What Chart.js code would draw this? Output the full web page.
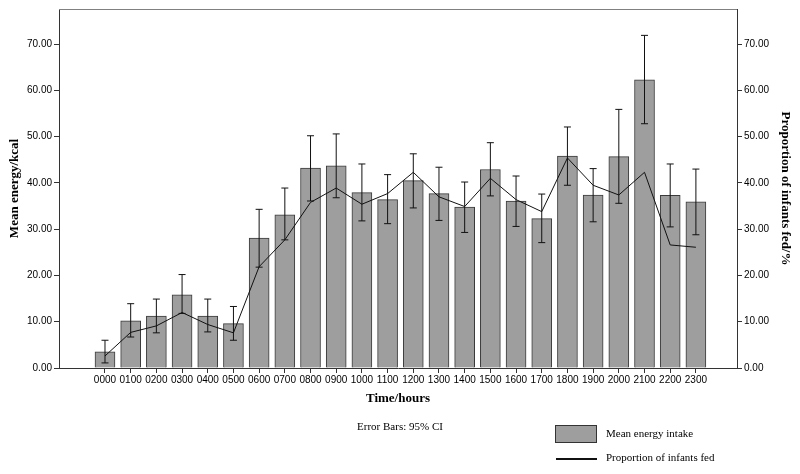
<!DOCTYPE html>
<html lang="en">
<head>
<meta charset="UTF-8">
<title>Mean energy intake by hour</title>
<script src="https://cdn.jsdelivr.net/npm/chart.js"></script>
<style>
    body { margin: 0; background: #fff; }
    .contenedor { position: relative; width: 800px; height: 474px; }
    .nota { position: absolute; font-family: "Liberation Serif", serif; font-size: 11px; color: #000; white-space: nowrap; }
    .caja { position: absolute; left: 555px; top: 425px; width: 40px; height: 16px; background: #9e9e9e; border: 1px solid #333; }
    .linea { position: absolute; left: 556px; top: 458px; width: 41px; height: 2px; background: #111; }
</style>
</head>
<body>
<div class="contenedor">
    <canvas id="grafica"></canvas>
    <div class="nota" style="left:400px; top:420px; transform:translateX(-50%);">Error Bars: 95% CI</div>
    <div class="caja"></div>
    <div class="nota" style="left:606px; top:427px;">Mean energy intake</div>
    <div class="linea"></div>
    <div class="nota" style="left:606px; top:451px;">Proportion of infants fed</div>
</div>
<script>
const hours = ['0000','0100','0200','0300','0400','0500','0600','0700','0800','0900','1000','1100',
               '1200','1300','1400','1500','1600','1700','1800','1900','2000','2100','2200','2300'];
const meanEnergy = [3.5, 10.2, 11.2, 15.8, 11.2, 9.6, 28.1, 33.1, 43.2, 43.7, 37.9, 36.4,
                    40.5, 37.7, 34.8, 42.9, 36.1, 32.3, 45.8, 37.4, 45.7, 62.3, 37.3, 35.9];
const ciLow = [1.1, 6.7, 7.6, 11.8, 7.8, 6.0, 21.8, 27.7, 36.1, 36.8, 31.8, 31.2,
               34.6, 31.9, 29.3, 37.2, 30.6, 27.1, 39.5, 31.6, 35.6, 52.8, 30.5, 28.8];
const ciHigh = [6.0, 13.9, 14.9, 20.2, 14.9, 13.3, 34.3, 38.9, 50.2, 50.6, 44.1, 41.8,
                46.3, 43.4, 40.2, 48.7, 41.5, 37.6, 52.1, 43.1, 55.9, 71.9, 44.1, 43.0];
const propFed = [2.6, 7.7, 9.1, 12.0, 9.4, 7.6, 21.9, 27.7, 35.8, 38.9, 35.4, 37.7,
                 42.3, 37.0, 34.9, 41.0, 36.4, 33.8, 45.4, 39.5, 37.4, 42.3, 26.6, 26.1];
const yTicks = [0, 10, 20, 30, 40, 50, 60, 70];

const tickFont = { family: 'Liberation Sans', size: 10 };
const titleFont = { family: 'Liberation Serif', size: 13, weight: 'bold' };

// error bars + frame around the plot
const errorBars = {
    id: 'errorBars',
    afterDatasetsDraw(chart) {
        const ctx = chart.ctx;
        const y = chart.scales.y;
        const meta = chart.getDatasetMeta(1);
        ctx.save();
        ctx.strokeStyle = '#111';
        ctx.lineWidth = 1;
        meta.data.forEach((bar, i) => {
            const top = y.getPixelForValue(ciHigh[i]);
            const bot = y.getPixelForValue(ciLow[i]);
            ctx.beginPath();
            ctx.moveTo(bar.x, top); ctx.lineTo(bar.x, bot);
            ctx.moveTo(bar.x - 3.5, top); ctx.lineTo(bar.x + 3.5, top);
            ctx.moveTo(bar.x - 3.5, bot); ctx.lineTo(bar.x + 3.5, bot);
            ctx.stroke();
        });
        const a = chart.chartArea;
        ctx.strokeStyle = '#808080';
        ctx.beginPath();
        ctx.moveTo(a.left, a.top + 0.5); ctx.lineTo(a.right, a.top + 0.5);
        ctx.stroke();
        ctx.restore();
    }
};

const yAxis = (pos, title, ancho) => ({
    position: pos,
    min: 0,
    max: 77.6,
    afterBuildTicks: s => { s.ticks = yTicks.map(v => ({ value: v })); },
    afterFit: s => { s.width = ancho; },
    grid: { drawOnChartArea: false, tickLength: 5, tickColor: '#333' },
    border: { color: '#333' },
    ticks: { font: tickFont, color: '#000', padding: 2, callback: v => v.toFixed(2) },
    title: { display: true, text: title, font: titleFont, color: '#000', padding: { top: 7, bottom: 0 } }
});

new Chart(document.getElementById('grafica'), {
    type: 'bar',
    data: {
        datasets: [{
            type: 'line',
            label: 'Proportion of infants fed',
            data: propFed.map((v, i) => ({ x: i, y: v })),
            yAxisID: 'y2',
            borderColor: '#111',
            borderWidth: 1,
            pointRadius: 0,
            tension: 0,
            order: 0
        }, {
            label: 'Mean energy intake',
            data: meanEnergy.map((v, i) => ({ x: i, y: v })),
            yAxisID: 'y',
            backgroundColor: '#9e9e9e',
            borderColor: '#3a3a3a',
            borderWidth: 1,
            barThickness: 20,
            order: 1
        }]
    },
    options: {
        responsive: true,
        maintainAspectRatio: false,
        animation: false,
        layout: { padding: { top: 9, bottom: 66, left: 0, right: 0 } },
        plugins: { legend: { display: false }, tooltip: { enabled: false } },
        scales: {
            x: {
                type: 'linear',
                offset: false,
                min: -1.79,
                max: 24.6,
                afterBuildTicks: s => { s.ticks = hours.map((h, i) => ({ value: i })); },
                afterFit: s => { s.height = 40; },
                grid: { drawOnChartArea: false, tickLength: 5, tickColor: '#333', offset: false },
                border: { color: '#333' },
                ticks: { font: tickFont, color: '#000', padding: 1, autoSkip: false, maxRotation: 0,
                         callback: v => hours[v] },
                title: { display: true, text: 'Time/hours', font: titleFont, color: '#000', padding: { top: 0, bottom: 2 } }
            },
            y: yAxis('left', 'Mean energy/kcal', 59),
            y2: yAxis('right', 'Proportion of infants fed/%', 63)
        }
    },
    plugins: [errorBars]
});
</script>
</body>
</html>
